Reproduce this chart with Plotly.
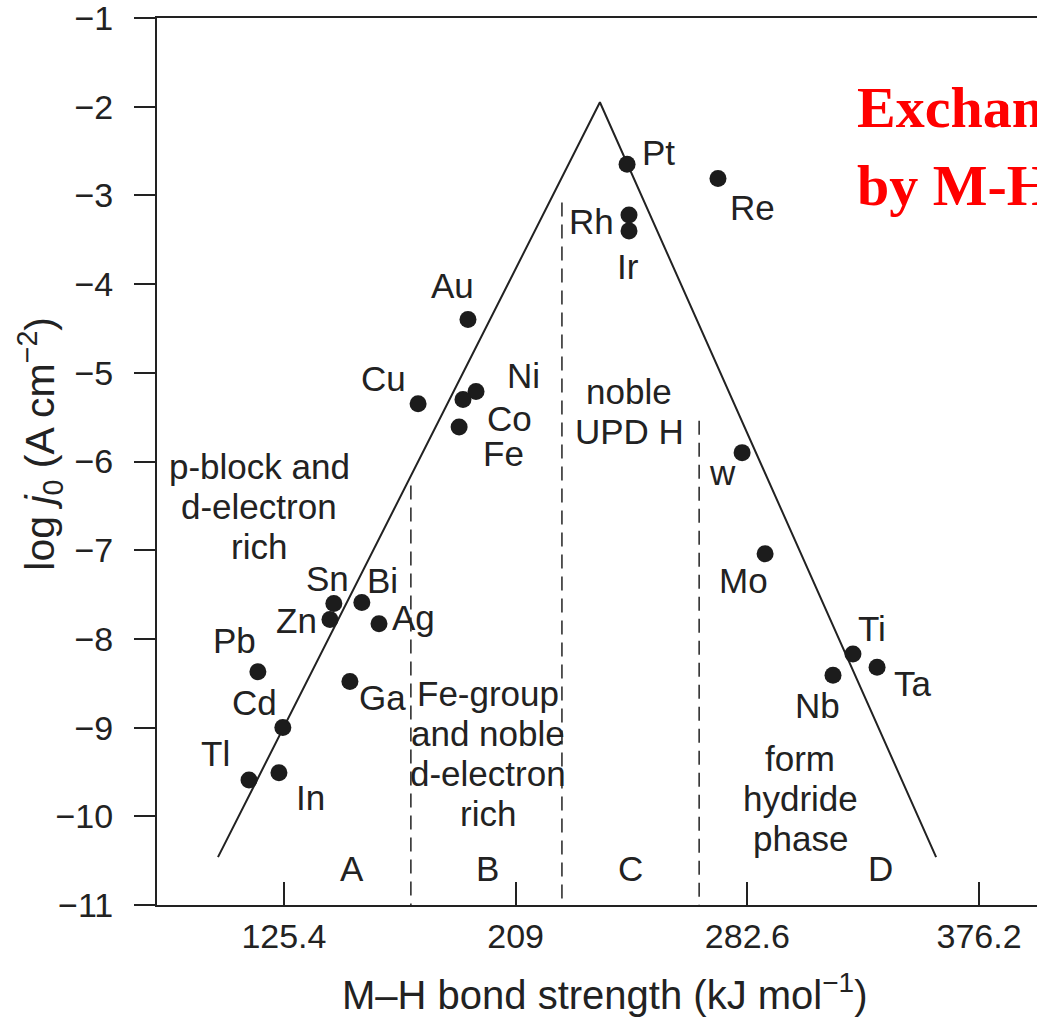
import plotly.graph_objects as go

# ---------------- data ----------------
metals = ["Pt", "Re", "Rh", "Ir", "Au", "Cu", "Ni", "Co", "Fe", "w", "Mo",
          "Sn", "Zn", "Bi", "Ag", "Pb", "Ga", "Cd", "Tl", "In", "Ti", "Ta", "Nb"]
bond_strength = [249.2, 282.0, 249.9, 249.9, 191.8, 173.8, 194.7, 190.0, 188.6, 290.7, 299.0,
                 143.4, 142.0, 153.5, 159.7, 116.0, 149.2, 125.0, 112.8, 123.6, 330.7, 339.4, 323.5]
log_j0 = [-2.65, -2.81, -3.22, -3.40, -4.40, -5.35, -5.21, -5.30, -5.61, -5.90, -7.04,
          -7.60, -7.78, -7.59, -7.83, -8.37, -8.48, -9.00, -9.59, -9.51, -8.17, -8.32, -8.41]

volcano_x = [101.6, 239.4, 360.7]
volcano_y = [-10.46, -1.95, -10.46]

boundary_x = [171.2, 225.7, 275.2]
boundary_top = [-6.27, -3.08, -5.54]

x_tickvals = [125.4, 209, 292.6, 376.2]
x_ticktext = ["125.4", "209", "282.6", "376.2"]
y_tickvals = [-11, -10, -9, -8, -7, -6, -5, -4, -3, -2, -1]

# label offsets (pixels) relative to each point: (dx, dy up)
label_offsets = {
    "Pt": (31, 12), "Re": (35, -29), "Rh": (-38, -7), "Ir": (-1, -36),
    "Au": (-15, 34), "Cu": (-35, 25), "Ni": (47, 16), "Co": (47, -19),
    "Fe": (44, -27), "w": (-20, -20), "Mo": (-22, -27), "Sn": (-6, 25),
    "Zn": (-33, -1), "Bi": (21, 22), "Ag": (34, 6), "Pb": (-23, 31),
    "Ga": (33, -16), "Cd": (-28, 25), "Tl": (-34, 26), "In": (32, -25),
    "Ti": (19, 25), "Ta": (36, -16), "Nb": (-16, -30),
}

# region text blocks: (lines, x, y centre)
region_blocks = [
    (["p-block and", "d-electron", "rich"], 116.4, -6.51),
    (["Fe-group", "and noble", "d-electron", "rich"], 199.0, -9.29),
    (["noble", "UPD H"], 249.9, -5.44),
    (["form", "hydride", "phase"], 311.6, -9.80),
    (["A"], 149.9, -10.59),
    (["B"], 198.7, -10.59),
    (["C"], 250.3, -10.59),
    (["D"], 340.5, -10.59),
]

INK = "#222222"
FONT = "Liberation Sans, Arial, Helvetica, sans-serif"
LABEL_SIZE = 35

fig = go.Figure()

# volcano lines
fig.add_trace(go.Scatter(x=volcano_x, y=volcano_y, mode="lines",
                         line=dict(color=INK, width=2), hoverinfo="skip"))

# dashed region boundaries
for bx, bt in zip(boundary_x, boundary_top):
    fig.add_trace(go.Scatter(x=[bx, bx], y=[bt, -11], mode="lines",
                             line=dict(color=INK, width=1.5, dash="14px,8px"),
                             hoverinfo="skip"))

# metal points
fig.add_trace(go.Scatter(x=bond_strength, y=log_j0, mode="markers",
                         marker=dict(size=17, color="#1c1c1c"),
                         text=metals, hoverinfo="text"))

annotations = []
for m, xv, yv in zip(metals, bond_strength, log_j0):
    dx, dy = label_offsets[m]
    annotations.append(dict(x=xv, y=yv, xref="x", yref="y", text=m, showarrow=False,
                            xshift=dx, yshift=dy, xanchor="center", yanchor="middle",
                            font=dict(family=FONT, size=LABEL_SIZE, color=INK)))

LINE_STEP = 40
for lines, bx, by in region_blocks:
    n = len(lines)
    for i, ln in enumerate(lines):
        shift = ((n - 1) / 2 - i) * LINE_STEP
        annotations.append(dict(x=bx, y=by, xref="x", yref="y", text=ln, showarrow=False,
                                yshift=shift, xanchor="center", yanchor="middle",
                                font=dict(family=FONT, size=LABEL_SIZE, color=INK)))

# axis titles
annotations.append(dict(x=0.508, y=-0.098, xref="paper", yref="paper",
                        text="M\u2013H bond strength (kJ mol<sup>\u22121</sup>)",
                        showarrow=False, xanchor="center", yanchor="middle",
                        font=dict(family=FONT, size=40, color=INK)))
annotations.append(dict(x=-0.133, y=0.52, xref="paper", yref="paper",
                        text="log <i>j</i><sub>0</sub> (A cm<sup>\u22122</sup>)",
                        textangle=-90, showarrow=False, xanchor="center", yanchor="middle",
                        font=dict(family=FONT, size=41, color=INK)))

# red overlay text
RED_FONT = "Liberation Serif, Times New Roman, serif"
annotations.append(dict(x=331.5, y=-2.01, xref="x", yref="y",
                        text="<b>Exchange current</b>", showarrow=False,
                        xanchor="left", yanchor="middle",
                        font=dict(family=RED_FONT, size=58, color="#ff0000")))
annotations.append(dict(x=331.5, y=-2.89, xref="x", yref="y",
                        text="<b>by M-H bond strength</b>", showarrow=False,
                        xanchor="left", yanchor="middle",
                        font=dict(family=RED_FONT, size=58, color="#ff0000")))

fig.update_layout(
    width=1037, height=1017,
    margin=dict(l=157, r=0, t=18, b=112),
    paper_bgcolor="white", plot_bgcolor="white",
    showlegend=False,
    annotations=annotations,
    xaxis=dict(range=[79.6, 397.1], tickvals=x_tickvals, ticktext=x_ticktext,
               ticks="inside", ticklen=23, tickwidth=1.5, tickcolor=INK,
               showline=True, linewidth=2, linecolor=INK, mirror=True,
               showgrid=False, zeroline=False, ticklabelstandoff=0,
               ticklabeloverflow="allow",
               tickfont=dict(family=FONT, size=34, color=INK)),
    yaxis=dict(range=[-11, -1], tickvals=y_tickvals,
               ticks="outside", ticklen=21, tickwidth=1.5, tickcolor=INK,
               showline=True, linewidth=2, linecolor=INK,
               showgrid=False, zeroline=False, ticklabelstandoff=14,
               ticklabeloverflow="allow",
               tickfont=dict(family=FONT, size=34, color=INK)),
)

fig.write_html("out.html",
               config={"displayModeBar": False},
               post_script="document.body.style.margin='0';document.body.style.overflow='hidden';")
